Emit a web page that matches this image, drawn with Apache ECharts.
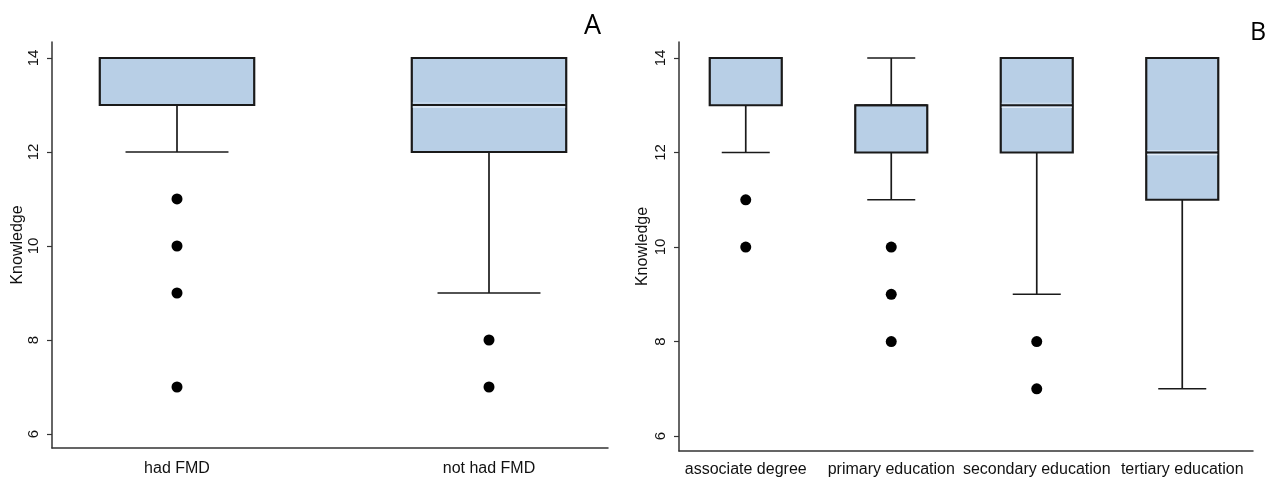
<!DOCTYPE html>
<html>
<head>
    <title>Knowledge box plots</title>
    <script src="https://cdn.jsdelivr.net/npm/echarts@6.0.0/dist/echarts.min.js"></script>
    <style>
        html, body { margin: 0; padding: 0; background: #fff; }
        #chart { width: 1278px; height: 477px; }
    </style>
</head>
<body>
    <div id="chart"></div>

    <script>
        // panel A: FMD history
        const groupsA = ['had FMD', 'not had FMD'];
        const lowA = [12, 9];
        const q1A = [13, 12];
        const medA = [14, 13];
        const q3A = [14, 14];
        const highA = [14, 14];
        const outliersA = [[11, 10, 9, 7], [8, 7]];

        // panel B: education level
        const groupsB = ['associate degree', 'primary education', 'secondary education', 'tertiary education'];
        const lowB = [12, 11, 9, 7];
        const q1B = [13, 12, 12, 11];
        const medB = [14, 13, 13, 12];
        const q3B = [14, 13, 14, 14];
        const highB = [14, 14, 14, 14];
        const outliersB = [[11, 10], [10, 9, 8], [8, 7], []];

        const yTicks = [6, 8, 10, 12, 14];

        const FONT = '"Liberation Sans", Arial, sans-serif';
        const INK = '#1a1a1a';
        const BOX_FILL = '#b8cfe6';

        function boxRows(low, q1, med, q3, high) {
            return low.map((v, i) => [i, v, q1[i], med[i], q3[i], high[i]]);
        }
        function outlierPoints(out) {
            const pts = [];
            out.forEach((vals, i) => vals.forEach(v => pts.push([i, v])));
            return pts;
        }

        function renderBox(params, api) {
            const i = api.value(0);
            const lo = api.coord([i, api.value(1)]);
            const q1 = api.coord([i, api.value(2)]);
            const med = api.coord([i, api.value(3)]);
            const q3 = api.coord([i, api.value(4)]);
            const hi = api.coord([i, api.value(5)]);
            const band = api.size([1, 0])[0];
            const bw = band * 0.495;
            const cw = bw * 2 / 3;
            const cx = q1[0];
            const lineStyle = { stroke: INK, lineWidth: 1.7 };
            const kids = [];
            if (lo[1] > q1[1]) {
                kids.push({ type: 'line', shape: { x1: cx, y1: q1[1], x2: cx, y2: lo[1] }, style: lineStyle });
                kids.push({ type: 'line', shape: { x1: cx - cw / 2, y1: lo[1], x2: cx + cw / 2, y2: lo[1] }, style: lineStyle });
            }
            if (hi[1] < q3[1]) {
                kids.push({ type: 'line', shape: { x1: cx, y1: q3[1], x2: cx, y2: hi[1] }, style: lineStyle });
                kids.push({ type: 'line', shape: { x1: cx - cw / 2, y1: hi[1], x2: cx + cw / 2, y2: hi[1] }, style: lineStyle });
            }
            kids.push({
                type: 'rect',
                shape: { x: cx - bw / 2, y: q3[1], width: bw, height: q1[1] - q3[1] },
                style: { fill: BOX_FILL, stroke: INK, lineWidth: 2.2 }
            });
            if (med[1] < q1[1] && med[1] > q3[1]) {
                kids.push({ type: 'line', shape: { x1: cx - bw / 2 + 1, y1: med[1] + 2, x2: cx + bw / 2 - 1, y2: med[1] + 2 }, style: { stroke: '#e4eef9', lineWidth: 1.5 } });
                kids.push({ type: 'line', shape: { x1: cx - bw / 2 + 1, y1: med[1] - 2, x2: cx + bw / 2 - 1, y2: med[1] - 2 }, style: { stroke: '#d2e1f1', lineWidth: 1 } });
            }
            kids.push({ type: 'line', shape: { x1: cx - bw / 2, y1: med[1], x2: cx + bw / 2, y2: med[1] }, style: { stroke: INK, lineWidth: 2 } });
            return { type: 'group', children: kids };
        }

        function frameX(gridIndex, cats) {
            return {
                type: 'category', gridIndex: gridIndex, data: cats,
                axisLine: { show: true, lineStyle: { color: '#333', width: 1.5 } },
                axisTick: { show: false }, axisLabel: { show: false }, splitLine: { show: false }
            };
        }
        function dataX(gridIndex, cats, margin) {
            return {
                type: 'category', gridIndex: gridIndex, data: cats,
                axisLine: { show: false }, axisTick: { show: false }, splitLine: { show: false },
                axisLabel: { show: true, color: '#111', fontSize: 16, fontFamily: FONT, margin: margin, interval: 0 }
            };
        }
        function frameY(gridIndex, min, max, gap) {
            return {
                type: 'value', gridIndex: gridIndex, min: min, max: max,
                name: 'Knowledge', nameLocation: 'middle', nameRotate: 90, nameGap: gap, nameMoveOverlap: false,
                nameTextStyle: { color: '#111', fontSize: 16, fontFamily: FONT },
                axisLine: { show: true, lineStyle: { color: '#333', width: 1.5 } },
                axisTick: { show: true, length: 5, lineStyle: { color: '#333', width: 1.2 }, customValues: yTicks },
                axisLabel: { show: true, rotate: 90, color: '#111', fontSize: 15, fontFamily: FONT, margin: 5, customValues: yTicks },
                splitLine: { show: false }
            };
        }
        function dataY(gridIndex, min, max) {
            return { type: 'value', gridIndex: gridIndex, min: min, max: max, show: false, splitLine: { show: false } };
        }

        const minA = 5.702, maxA = 14.34;
        const minB = 5.683, maxB = 14.339;

        const chart = echarts.init(document.getElementById('chart'), null, { renderer: 'canvas' });
        chart.setOption({
            animation: false,
            backgroundColor: '#fff',
            title: [
                { text: 'A', left: 579, top: -1, textStyle: { fontSize: 27, fontWeight: 'normal', color: '#000', fontFamily: '"Open Sans", sans-serif' } },
                { text: 'B', left: 1245, top: 8, textStyle: { fontSize: 25, fontWeight: 'normal', color: '#000', fontFamily: '"Open Sans", sans-serif' } }
            ],
            grid: [
                { left: 52, width: 556, top: 42, bottom: 29, containLabel: false, outerBoundsMode: 'none' },
                { left: 21, width: 624, top: 42, bottom: 29, containLabel: false, outerBoundsMode: 'none' },
                { left: 679, width: 574, top: 42, bottom: 26, containLabel: false, outerBoundsMode: 'none' },
                { left: 673, width: 582, top: 42, bottom: 26, containLabel: false, outerBoundsMode: 'none' }
            ],
            xAxis: [frameX(0, groupsA), dataX(1, groupsA, 7), frameX(2, groupsB), dataX(3, groupsB, 5)],
            yAxis: [frameY(0, minA, maxA, 21), dataY(1, minA, maxA), frameY(2, minB, maxB, 23), dataY(3, minB, maxB)],
            series: [
                { type: 'custom', xAxisIndex: 1, yAxisIndex: 1, renderItem: renderBox, data: boxRows(lowA, q1A, medA, q3A, highA) },
                { type: 'scatter', xAxisIndex: 1, yAxisIndex: 1, symbolSize: 11, itemStyle: { color: '#000', opacity: 1 }, data: outlierPoints(outliersA) },
                { type: 'custom', xAxisIndex: 3, yAxisIndex: 3, renderItem: renderBox, data: boxRows(lowB, q1B, medB, q3B, highB) },
                { type: 'scatter', xAxisIndex: 3, yAxisIndex: 3, symbolSize: 11, itemStyle: { color: '#000', opacity: 1 }, data: outlierPoints(outliersB) }
            ]
        });
    </script>
</body>
</html>
